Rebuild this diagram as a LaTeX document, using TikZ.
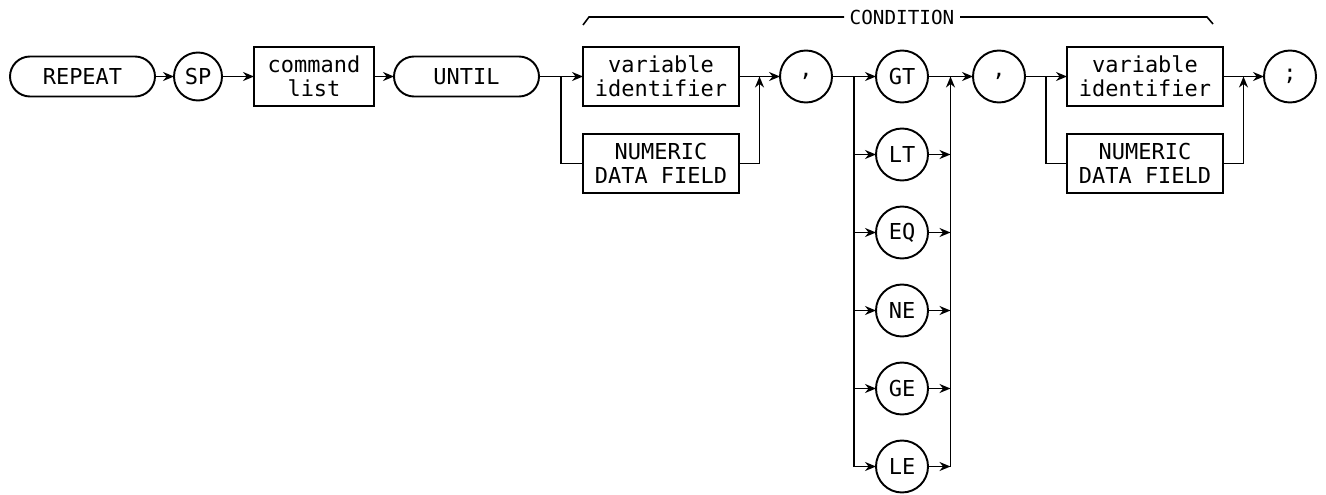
\documentclass[tikz,border=0pt]{standalone}
\usepackage{fontspec}
\newfontfamily\plotfont{DejaVu Sans Mono}
\usepackage{tikz}
\usetikzlibrary{arrows.meta, positioning, calc}

\begin{document}
\begin{tikzpicture}[
    font=\plotfont\fontsize{12.5}{13.5}\selectfont,
    line/.style={line width=0.9pt},
    arrow/.style={line, -{Stealth[length=2.2mm, width=1.8mm]}},
    pill/.style={rectangle, rounded corners=0.4cm, draw, line width=1.1pt,
      minimum width=2.9cm, minimum height=0.8cm, inner sep=0pt, outer sep=0pt},
    disc/.style={circle, draw, line width=1.1pt, minimum size=1.04cm,
      inner sep=0pt, outer sep=0pt},
    field/.style={rectangle, draw, line width=1.1pt, minimum width=3.12cm,
      minimum height=1.18cm, inner sep=0pt, outer sep=0pt, align=center}
]
\useasboundingbox (0,0) rectangle (26.52,-9.9);

\node[pill] (repeat) at (1.65,-1.53) {REPEAT};
\node[disc, minimum size=0.96cm, right=0.38cm of repeat] (sp) {SP};
\node[field, minimum width=2.4cm, right=0.64cm of sp] (cmdlist) {command\\list};
\node[pill, right=0.4cm of cmdlist] (until) {UNTIL};
\node[field, right=0.88cm of until] (var1) {variable\\identifier};
\node[field, below=0.56cm of var1] (num1) {NUMERIC\\DATA FIELD};
\node[disc, right=0.82cm of var1] (comma1) {,};
\node[disc, right=0.88cm of comma1] (gt) {GT};
\node[disc, below=0.52cm of gt] (lt) {LT};
\node[disc, below=0.52cm of lt] (eq) {EQ};
\node[disc, below=0.52cm of eq] (ne) {NE};
\node[disc, below=0.52cm of ne] (ge) {GE};
\node[disc, below=0.52cm of ge] (le) {LE};
\node[disc, right=0.9cm of gt] (comma2) {,};
\node[field, right=0.84cm of comma2] (var2) {variable\\identifier};
\node[field, below=0.56cm of var2] (num2) {NUMERIC\\DATA FIELD};
\node[disc, right=0.82cm of var2] (semi) {;};

% branch points
\coordinate (split1) at ($(until.east)!0.5!(var1.west)$);
\coordinate (merge1) at ($(var1.east)!0.5!(comma1.west)$);
\coordinate (split2) at ($(comma1.east)!0.5!(gt.west)$);
\coordinate (merge2) at ($(gt.east)!0.5!(comma2.west)$);
\coordinate (split3) at ($(comma2.east)!0.5!(var2.west)$);
\coordinate (merge3) at ($(var2.east)!0.5!(semi.west)$);

\draw[arrow] (repeat)  -- (sp);
\draw[arrow] (sp)      -- (cmdlist);
\draw[arrow] (cmdlist) -- (until);
\draw[arrow] (until)   -- (var1);
\draw[line]  (split1)  |- (num1.west);
\draw[arrow] (var1)    -- (comma1);
\draw[arrow] (num1.east) -| (merge1);
\draw[arrow] (comma1)  -- (gt);

% relations
\draw[line]  (split2) -- (split2 |- le);
\draw[arrow] (split2 |- lt) -- (lt);
\draw[arrow] (split2 |- eq) -- (eq);
\draw[arrow] (split2 |- ne) -- (ne);
\draw[arrow] (split2 |- ge) -- (ge);
\draw[arrow] (split2 |- le) -- (le);
\draw[arrow] (gt) -- (comma2);
\draw[arrow] (lt) -- (merge2 |- lt);
\draw[arrow] (eq) -- (merge2 |- eq);
\draw[arrow] (ne) -- (merge2 |- ne);
\draw[arrow] (ge) -- (merge2 |- ge);
\draw[arrow] (le) -- (merge2 |- le);
\draw[arrow] (merge2 |- le) -- (merge2);

\draw[arrow] (comma2) -- (var2);
\draw[line]  (split3) |- (num2.west);
\draw[arrow] (num2.east) -| (merge3);
\draw[arrow] (var2) -- (semi);

% condition bracket
\coordinate (condtop) at ($(var1.north)+(0,0.6)$);
\node[inner sep=3pt, font=\plotfont\fontsize{11}{12}\selectfont] (cond) at (gt |- condtop) {CONDITION};
\draw[line] ($(var1.north west)+(0,0.44)$) -- ($(var1.north west)+(0.12,0.6)$) -- (cond.west);
\draw[line] (cond.east) -- ($(var2.north east)+(-0.32,0.6)$) -- ($(var2.north east)+(-0.2,0.46)$);
\end{tikzpicture}
\end{document}
